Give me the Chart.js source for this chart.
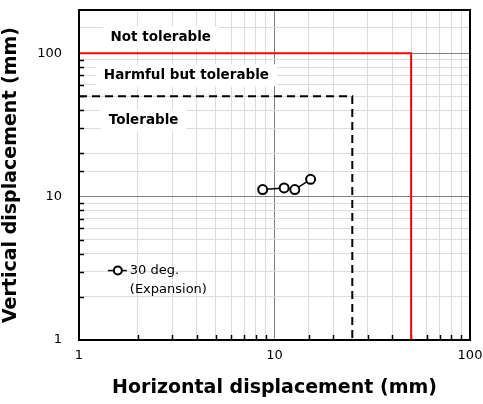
<!DOCTYPE html>
<html>
<head>
<meta charset="utf-8">
<script src="https://cdn.jsdelivr.net/npm/chart.js@4.4.1/dist/chart.umd.min.js"></script>
<style>
  html, body { margin: 0; padding: 0; background: #fff; }
  #wrap { width: 483px; height: 404px; }
</style>
</head>
<body>
<div id="wrap"><canvas id="chart" width="483" height="404"></canvas></div>
<script>
// measured series: 30 deg. (Expansion)
const dispX = [8.7, 11.2, 12.7, 15.3];
const dispY = [11.2, 11.5, 11.2, 13.2];

// limit lines
const notTolX = [1, 50, 50];
const notTolY = [100, 100, 1];
const harmX = [1, 25, 25];
const harmY = [50, 50, 1];

const xTickLabels = [1, 10, 100];
const yTickLabels = [1, 10, 100];

const zoneLabels = ['Not tolerable', 'Harmful but tolerable', 'Tolerable'];
const zoneLabelX = [1.45, 1.34, 1.42];
const zoneLabelY = [129, 70, 34];

const legendLines = ['30 deg.', '(Expansion)'];

const FONT = 'DejaVu Sans';

const toPts = (xs, ys) => xs.map((x, i) => ({ x: x, y: ys[i] }));
const isDecade = v => Math.abs(Math.log10(v) - Math.round(Math.log10(v))) < 1e-9;

const extras = {
  id: 'extras',
  beforeDatasetsDraw(chart) {
    const { ctx, scales: { x, y } } = chart;
    ctx.save();
    // zone labels on white boxes
    ctx.font = 'bold 13.5px "' + FONT + '"';
    ctx.textBaseline = 'middle';
    zoneLabels.forEach((t, i) => {
      const px = x.getPixelForValue(zoneLabelX[i]);
      const py = y.getPixelForValue(zoneLabelY[i]);
      const w = ctx.measureText(t).width;
      ctx.fillStyle = '#fff';
      ctx.fillRect(px - 8, py - 11, w + 16, 22);
      ctx.fillStyle = '#000';
      ctx.fillText(t, px, py);
    });
    // inward minor ticks
    ctx.strokeStyle = '#000';
    ctx.lineWidth = 1.5;
    x.ticks.forEach(t => {
      if (isDecade(t.value)) return;
      const px = Math.round(x.getPixelForValue(t.value)) + 0.5;
      ctx.beginPath();
      ctx.moveTo(px, chart.chartArea.bottom);
      ctx.lineTo(px, chart.chartArea.bottom - 5);
      ctx.stroke();
    });
    y.ticks.forEach(t => {
      if (isDecade(t.value) || t.value > 100) return;
      const py = Math.round(y.getPixelForValue(t.value)) + 0.5;
      ctx.beginPath();
      ctx.moveTo(chart.chartArea.left, py);
      ctx.lineTo(chart.chartArea.left + 5, py);
      ctx.stroke();
    });
    ctx.restore();
  },
  afterDraw(chart) {
    const { ctx, chartArea: a, scales: { x, y } } = chart;
    ctx.save();
    // frame
    ctx.strokeStyle = '#000';
    ctx.lineWidth = 2;
    ctx.strokeRect(a.left, a.top, a.right - a.left, a.bottom - a.top);
    // legend inside plot
    const lx = x.getPixelForValue(1.58);
    const ly = y.getPixelForValue(3.05);
    ctx.lineWidth = 1.5;
    ctx.beginPath();
    ctx.moveTo(lx - 10, ly);
    ctx.lineTo(lx + 9, ly);
    ctx.stroke();
    ctx.beginPath();
    ctx.arc(lx, ly, 4, 0, Math.PI * 2);
    ctx.fillStyle = '#fff';
    ctx.fill();
    ctx.lineWidth = 2;
    ctx.stroke();
    ctx.fillStyle = '#000';
    ctx.font = '13px "' + FONT + '"';
    ctx.textBaseline = 'middle';
    ctx.fillText(legendLines[0], lx + 12, ly);
    ctx.fillText(legendLines[1], lx + 12, ly + 19);
    ctx.restore();
  }
};

new Chart(document.getElementById('chart'), {
  type: 'scatter',
  data: {
    datasets: [
      {
        label: '30 deg. (Expansion)',
        data: toPts(dispX, dispY),
        showLine: true,
        borderColor: '#000',
        borderWidth: 1.5,
        pointRadius: 4.5,
        pointBorderWidth: 2,
        pointBackgroundColor: '#fff',
        pointBorderColor: '#000'
      },
      {
        label: 'Harmful but tolerable limit',
        data: toPts(harmX, harmY),
        showLine: true,
        borderColor: '#000',
        borderWidth: 2,
        borderDash: [8, 5],
        pointRadius: 0
      },
      {
        label: 'Not tolerable limit',
        data: toPts(notTolX, notTolY),
        showLine: true,
        borderColor: '#ff0000',
        borderWidth: 2,
        pointRadius: 0
      }
    ]
  },
  options: {
    responsive: false,
    animation: false,
    layout: { padding: 0 },
    plugins: {
      legend: { display: false },
      tooltip: { enabled: false }
    },
    scales: {
      x: {
        type: 'logarithmic',
        min: 1,
        max: 100,
        afterFit: s => { s.height = 64; s.paddingRight = 13; s.paddingLeft = 0; },
        grid: {
          drawTicks: false,
          color: c => (c.tick && isDecade(c.tick.value)) ? '#808080' : '#dcdcdc',
          lineWidth: 1
        },
        border: { display: false },
        ticks: {
          autoSkip: false,
          maxRotation: 0,
          padding: 8,
          color: '#000',
          font: { family: FONT, size: 13 },
          callback: v => xTickLabels.includes(v) ? String(v) : ''
        },
        title: {
          display: true,
          text: 'Horizontal displacement (mm)',
          color: '#000',
          font: { family: FONT, size: 19, weight: 'bold' },
          padding: { top: 0, bottom: 5 }
        }
      },
      y: {
        type: 'logarithmic',
        min: 1,
        max: 200,
        afterFit: s => { s.width = 79; s.paddingTop = 10; s.paddingBottom = 0; },
        grid: {
          drawTicks: false,
          color: c => (c.tick && isDecade(c.tick.value)) ? '#808080' : '#dcdcdc',
          lineWidth: 1
        },
        border: { display: false },
        ticks: {
          autoSkip: false,
          padding: 17,
          color: '#000',
          font: { family: FONT, size: 13 },
          callback: v => yTickLabels.includes(v) ? String(v) : ''
        },
        title: {
          display: true,
          text: 'Vertical displacement (mm)',
          color: '#000',
          font: { family: FONT, size: 19, weight: 'bold' },
          padding: { top: 0, bottom: 0 }
        }
      }
    }
  },
  plugins: [extras]
});
</script>
</body>
</html>
